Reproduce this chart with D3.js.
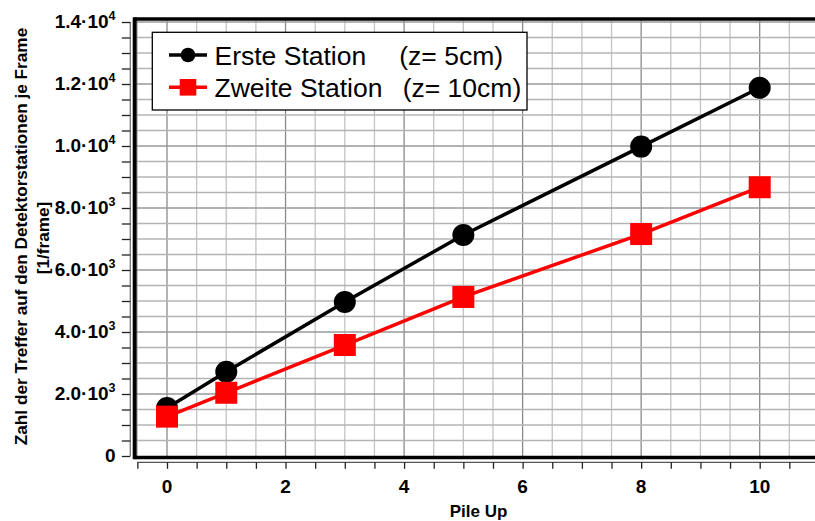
<!DOCTYPE html>
<html>
<head>
<meta charset="utf-8">
<script src="https://cdn.jsdelivr.net/npm/d3@7/dist/d3.min.js"></script>
<style>
  body { margin: 0; background: #fff; }
  svg { display: block; }
  text { font-family: "Liberation Sans", Arial, sans-serif; }
</style>
</head>
<body>
<svg id="chart" width="815" height="521"></svg>
<script>
// ---- data ----
const pileUp = [0, 1, 3, 5, 8, 10];
const ersteStation = [1550, 2720, 4970, 7130, 9980, 11880];
const zweiteStation = [1270, 2040, 3580, 5130, 7160, 8670];
const xTicks = [0, 2, 4, 6, 8, 10];
const yTicks = [0, 2000, 4000, 6000, 8000, 10000, 12000, 14000];
const yTickLabels = [["0", ""], ["2.0·10", "3"], ["4.0·10", "3"], ["6.0·10", "3"], ["8.0·10", "3"],
                     ["1.0·10", "4"], ["1.2·10", "4"], ["1.4·10", "4"]];
const xTitle = "Pile Up";
const yTitle1 = "Zahl der Treffer auf den Detektorstationen je Frame";
const yTitle2 = "[1/frame]";

// ---- scales ----
const x = d3.scaleLinear().domain([0, 10]).range([167, 759.7]);
const y = d3.scaleLinear().domain([0, 14000]).range([456, 22]);

const svg = d3.select("#chart");
const frameL = 134.7, frameT = 19, frameB = 457.5, frameR = 818;

// ---- grid ----
const g = svg.append("g");
const vGrid = d3.range(-0.5, 11.01, 0.5).filter(v => x(v) > frameL + 2);
g.selectAll("line.vg").data(vGrid).join("line")
  .attr("x1", d => x(d)).attr("x2", d => x(d))
  .attr("y1", frameT).attr("y2", frameB)
  .attr("stroke", d => (Math.abs(d % 2) < 1e-9) ? "#8a8a8a" : "#c4c4c4")
  .attr("stroke-width", 1.3);
const hGrid = d3.range(500, 14001, 500);
g.selectAll("line.hg").data(hGrid).join("line")
  .attr("x1", frameL).attr("x2", frameR)
  .attr("y1", d => y(d)).attr("y2", d => y(d))
  .attr("stroke", d => (d % 2000 === 0) ? "#999" : "#b4b4b4")
  .attr("stroke-width", 1.3);

// ---- frame ----
svg.append("line").attr("x1", frameL).attr("x2", frameR).attr("y1", frameT).attr("y2", frameT)
  .attr("stroke", "#000").attr("stroke-width", 3.5);
svg.append("line").attr("x1", frameL).attr("x2", frameR).attr("y1", frameB).attr("y2", frameB)
  .attr("stroke", "#000").attr("stroke-width", 3.5);
svg.append("line").attr("x1", frameL).attr("x2", frameL).attr("y1", frameT - 1.75).attr("y2", frameB + 1.75)
  .attr("stroke", "#000").attr("stroke-width", 4);

// ---- y axis ----
const yAxisX = 130.3;
const yAxis = d3.axisLeft(y).tickValues(d3.range(0, 14001, 500)).tickSize(8.5).tickFormat("");
const ya = svg.append("g").attr("transform", `translate(${yAxisX},0)`).call(yAxis);
ya.select(".domain").attr("stroke", "#777").attr("stroke-width", 1.3).attr("d", `M0,${y(14000)}V${y(0)}`);
ya.selectAll(".tick line").attr("stroke", "#222").attr("stroke-width", 1.3);
const yl = svg.append("g");
yTicks.forEach((v, i) => {
  const t = yl.append("text").attr("x", 115.5).attr("y", y(v) + 5.8)
    .attr("text-anchor", "end").attr("font-size", 19).attr("font-weight", "bold").attr("fill", "#000");
  t.append("tspan").text(yTickLabels[i][0]);
  if (yTickLabels[i][1]) {
    t.append("tspan").attr("font-size", 12.5).attr("dy", -7.8).text(yTickLabels[i][1]);
  }
});

// ---- x axis ----
const xAxisY = 462.3;
const xAxis = d3.axisBottom(x).tickValues(d3.range(-0.5, 10.51, 0.5)).tickSize(6.5).tickFormat("");
const xa = svg.append("g").attr("transform", `translate(0,${xAxisY})`).call(xAxis);
xa.select(".domain").attr("stroke", "#555").attr("stroke-width", 1.3).attr("d", `M${x(-0.5)},0H${frameR}`);
xa.selectAll(".tick line").attr("stroke", "#222").attr("stroke-width", 1.3);
svg.append("g").selectAll("text").data(xTicks).join("text")
  .attr("x", d => x(d)).attr("y", 493)
  .attr("text-anchor", "middle").attr("font-size", 19).attr("font-weight", "bold")
  .text(d => d);

// ---- titles ----
svg.append("text").attr("x", 478.5).attr("y", 517.3).attr("text-anchor", "middle")
  .attr("font-size", 17).attr("font-weight", "bold").text(xTitle);
svg.append("text").attr("transform", "translate(26.5,236.5) rotate(-90)").attr("text-anchor", "middle")
  .attr("font-size", 17.2).attr("font-weight", "bold").text(yTitle1);
svg.append("text").attr("transform", "translate(48.5,238) rotate(-90)").attr("text-anchor", "middle")
  .attr("font-size", 17.2).attr("font-weight", "bold").text(yTitle2);

// ---- series ----
const line = d3.line().x((d, i) => x(pileUp[i])).y(d => y(d));
svg.append("path").datum(ersteStation).attr("d", line)
  .attr("fill", "none").attr("stroke", "#000").attr("stroke-width", 3.5);
svg.append("g").selectAll("circle").data(ersteStation).join("circle")
  .attr("cx", (d, i) => x(pileUp[i])).attr("cy", d => y(d)).attr("r", 11).attr("fill", "#000");
svg.append("path").datum(zweiteStation).attr("d", line)
  .attr("fill", "none").attr("stroke", "#ff0000").attr("stroke-width", 3.5);
const sq = 22;
svg.append("g").selectAll("rect").data(zweiteStation).join("rect")
  .attr("x", (d, i) => x(pileUp[i]) - sq / 2).attr("y", d => y(d) - sq / 2)
  .attr("width", sq).attr("height", sq).attr("fill", "#ff0000");

// ---- legend ----
const lg = svg.append("g");
lg.append("rect").attr("x", 152.3).attr("y", 32.3).attr("width", 374.7).attr("height", 77.7)
  .attr("fill", "#fff").attr("stroke", "#000").attr("stroke-width", 1.3);
const rowsY = [55, 87.3];
lg.append("line").attr("x1", 169).attr("x2", 207).attr("y1", rowsY[0]).attr("y2", rowsY[0])
  .attr("stroke", "#000").attr("stroke-width", 3.5);
lg.append("circle").attr("cx", 188).attr("cy", rowsY[0]).attr("r", 7.3).attr("fill", "#000");
lg.append("line").attr("x1", 169).attr("x2", 207).attr("y1", rowsY[1]).attr("y2", rowsY[1])
  .attr("stroke", "#ff0000").attr("stroke-width", 3.5);
lg.append("rect").attr("x", 188 - 8.3).attr("y", rowsY[1] - 8.3).attr("width", 16.6).attr("height", 16.6).attr("fill", "#ff0000");
const legText = [["Erste Station", "(z= 5cm)", 399.3], ["Zweite Station", "(z= 10cm)", 402.7]];
legText.forEach((r, i) => {
  lg.append("text").attr("x", 214.5).attr("y", rowsY[i] + 10).attr("font-size", 26.5).text(r[0]);
  lg.append("text").attr("x", r[2]).attr("y", rowsY[i] + 10).attr("font-size", 26.5).text(r[1]);
});
</script>
</body>
</html>
